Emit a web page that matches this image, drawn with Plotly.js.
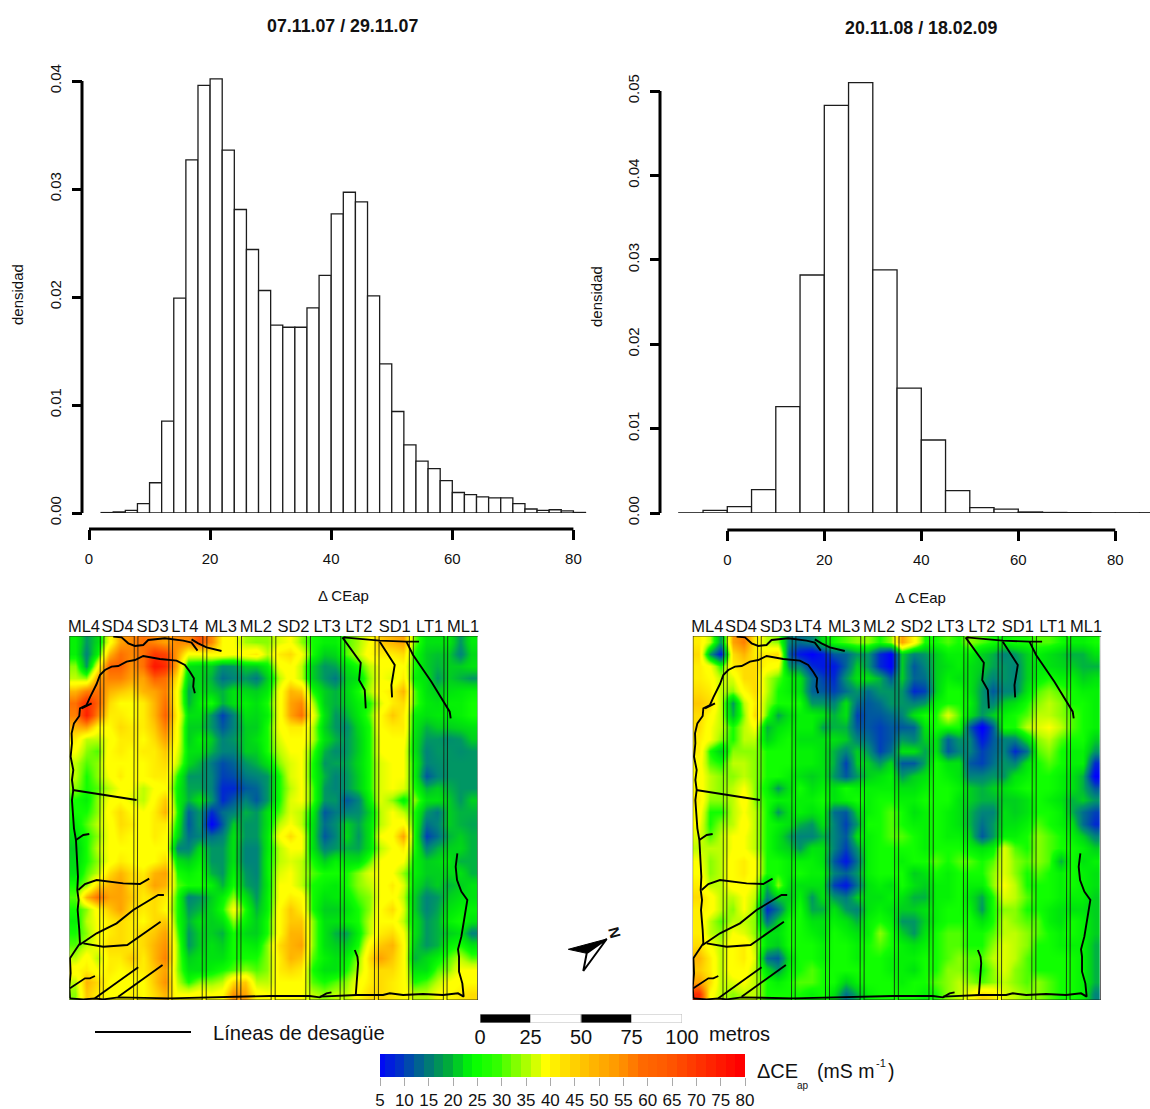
<!DOCTYPE html>
<html><head><meta charset="utf-8">
<script src="https://cdn.plot.ly/plotly-3.0.1.min.js"></script>
<style>html,body{margin:0;padding:0;background:#fff}#c{width:1150px;height:1109px}</style>
</head><body><div id="c"></div>
<script>
// --- histogram data ---
const histALeft = [2,4,6,8,10,12,14,16,18,20,22,24,26,28,30,32,34,36,38,40,42,44,46,48,50,52,54,56,58,60,62,64,66,68,70,72,74,76,78,80];
const histADensity = [0.00004,0.0001,0.00025,0.00086,0.0028,0.0085,0.0199,0.0327,0.0396,0.0402,0.0336,0.0281,0.0244,0.0206,0.0174,0.0172,0.0172,0.019,0.022,0.0277,0.0297,0.0288,0.0201,0.0138,0.0094,0.0063,0.0048,0.0041,0.003,0.0019,0.0017,0.0015,0.0014,0.0014,0.00086,0.00037,0.00025,0.0003,0.0002,0.00005];
const histBLeft = [-10,-5,0,5,10,15,20,25,30,35,40,45,50,55,60,65,70,75,80,85];
const histBDensity = [0.00002,0.0003,0.00075,0.00276,0.0126,0.0282,0.0483,0.051,0.0288,0.0148,0.00865,0.00265,0.00063,0.00047,0.00012,0.00006,0.00004,0.00003,0.00003,0.00003];
const histATicksY = [0,0.01,0.02,0.03,0.04];
const histBTicksY = [0,0.01,0.02,0.03,0.04,0.05];
const histTicksX = [0,20,40,60,80];

// --- map labels and grid ---
const stripNames = ['ML4','SD4','SD3','LT4','ML3','ML2','SD2','LT3','LT2','SD1','LT1','ML1'];
const stripLabelAt = [102,203,308,405,513,618,731,832,927,1035,1140,1240];
const stripLeft = [58,161,263,367,470,574,677,781,884,987,1090,1193];
const stripRight = [150,252,356,458,562,665,769,872,975,1078,1182,1285];
const mapTop = 78, mapBottom = 1170;
const mapCols = [75,109,143,177,211,245,279,313,347,381,415,449,483,517,551,585,619,653,687,721,755,789,823,857,891,925,959,993,1027,1061,1095,1129,1163,1197,1231,1265];
const mapRows = [96,133,169,205,242,278,315,351,387,424,460,497,533,569,606,642,679,715,752,788,824,861,897,933,970,1006,1043,1079,1115,1152];

const mapA = [
[28,20,25,40,52,55,58,55,52,55,55,62,55,42,40,35,34,34,38,40,34,30,28,28,32,35,40,48,50,52,33,26,26,27,20,27],
[28,18,28,50,58,55,58,66,64,52,40,40,42,42,40,42,44,36,44,46,40,30,24,25,32,36,42,44,44,46,30,24,23,24,18,25],
[34,20,40,60,60,54,58,72,68,50,26,25,24,19,20,24,24,28,40,42,36,24,20,21,26,30,36,40,40,42,30,24,22,24,24,26],
[36,34,52,56,56,52,52,60,58,44,24,25,22,16,18,20,17,24,36,42,36,24,20,17,24,26,34,40,38,44,28,26,20,24,22,20],
[50,56,58,50,48,46,50,52,56,40,21,26,24,22,26,25,24,27,40,50,48,30,24,22,25,30,35,42,44,50,32,26,24,26,27,28],
[58,68,60,46,42,42,44,50,58,40,22,28,30,22,26,28,26,30,40,52,55,36,24,22,24,28,30,38,44,46,32,27,26,28,28,30],
[56,70,56,44,44,42,44,50,60,42,26,26,20,12,18,26,25,28,40,52,58,40,26,20,22,27,32,42,48,44,28,26,27,27,28,30],
[50,52,42,42,46,44,44,48,56,40,24,24,20,14,18,24,24,30,40,44,44,36,24,20,19,25,30,42,44,44,27,22,24,24,25,26],
[44,36,36,40,44,44,42,46,52,40,24,28,24,18,20,24,26,30,38,42,42,36,26,22,20,24,30,40,42,42,26,20,20,19,20,24],
[40,34,32,42,44,42,44,44,48,38,26,26,22,18,18,24,24,30,36,40,40,32,22,19,20,24,30,40,42,40,26,18,20,20,19,20],
[36,32,34,42,42,42,42,44,46,36,25,22,17,13,15,20,22,26,34,38,40,30,20,21,21,25,30,38,40,40,28,18,19,20,20,20],
[36,30,34,40,44,40,42,44,44,30,20,20,18,12,13,17,18,20,30,38,40,30,22,18,20,24,30,38,40,40,28,14,18,20,20,20],
[34,30,32,36,40,40,36,40,42,28,21,21,18,10,10,14,15,20,30,36,40,32,20,18,20,24,30,38,40,38,30,22,24,22,20,20],
[30,28,34,40,42,38,36,42,48,28,22,26,20,10,14,18,14,20,30,38,40,32,20,20,14,18,28,38,34,28,34,26,26,24,20,24],
[30,30,34,42,46,42,40,44,50,30,15,20,10,16,18,22,20,26,32,38,36,28,14,17,18,19,24,36,40,36,30,20,17,24,22,22],
[28,32,36,40,46,44,40,44,44,28,14,20,5,14,24,20,20,26,36,40,36,26,16,19,24,21,26,36,40,42,30,16,18,24,22,21],
[26,30,34,40,44,42,40,44,42,25,16,18,16,18,26,20,20,27,40,46,40,26,14,18,25,20,26,40,42,52,30,12,16,22,24,22],
[24,30,36,40,42,42,40,42,42,18,18,25,20,20,26,18,18,27,36,40,40,26,18,20,22,21,26,36,40,44,30,18,22,24,25,22],
[25,30,34,40,44,42,40,42,46,26,24,28,20,20,26,18,18,28,36,38,36,30,24,28,26,26,32,40,42,40,28,24,25,27,22,22],
[26,32,36,46,50,46,44,50,52,30,28,30,22,20,28,20,18,28,38,40,36,32,30,30,30,34,38,40,40,34,28,24,24,25,26,22],
[30,34,46,50,52,46,46,52,50,32,30,30,28,22,30,21,19,27,40,40,36,30,28,27,30,34,36,40,44,38,26,22,24,22,24,26],
[32,50,58,52,52,48,44,46,44,30,18,20,24,28,34,26,20,28,40,44,42,30,26,27,28,32,34,40,42,36,24,18,20,24,26,26],
[30,34,42,48,52,46,44,46,42,30,20,22,25,30,40,30,22,28,42,48,44,30,24,24,26,30,34,42,46,38,24,18,21,26,28,28],
[28,36,40,44,46,44,42,46,48,30,22,26,24,26,34,28,24,30,42,48,48,34,26,26,28,30,36,42,42,36,26,20,22,28,30,26],
[30,34,40,44,46,44,46,48,52,32,20,24,24,22,30,25,24,30,42,50,50,34,26,22,21,28,36,44,46,40,26,20,22,24,26,18],
[32,36,40,46,46,44,46,50,54,34,20,24,26,24,30,28,27,34,46,50,52,34,26,24,24,30,42,48,50,42,24,20,22,28,30,26],
[36,42,36,44,44,48,44,50,56,34,24,26,26,26,30,30,30,34,44,50,48,32,28,26,28,34,46,52,48,42,22,25,28,32,36,32],
[42,44,40,44,42,44,44,48,52,34,26,26,28,30,32,34,32,34,44,46,44,30,26,26,30,36,44,46,46,42,26,26,32,34,40,40],
[36,50,46,42,40,42,42,48,54,36,30,34,34,36,46,48,36,36,42,42,42,32,30,32,34,40,44,46,44,42,30,32,36,40,42,42],
[34,48,44,42,40,44,42,46,50,40,40,42,40,42,54,52,42,40,42,42,40,36,34,36,36,42,46,46,44,42,36,36,40,42,44,46]
];

const mapB = [
[44,36,20,52,56,44,36,34,18,16,18,26,30,32,34,34,30,34,52,42,30,30,32,30,34,32,30,28,30,30,32,32,30,28,28,30],
[46,20,8,46,50,44,44,46,14,8,5,8,14,15,20,20,10,5,24,18,20,24,28,28,28,24,22,18,20,24,28,26,24,22,22,26],
[44,40,30,44,46,46,42,40,20,18,10,8,8,15,24,20,10,5,24,14,18,24,26,28,26,24,21,20,18,24,27,26,25,24,22,22],
[44,42,36,38,46,46,36,32,28,26,16,12,10,20,26,26,22,14,24,15,16,24,28,26,26,22,18,20,18,24,28,30,28,28,24,26],
[46,44,36,34,42,46,36,30,28,26,15,14,12,16,20,16,20,20,20,10,12,24,30,30,26,20,14,18,18,26,32,34,32,30,28,28],
[48,46,36,20,36,44,34,30,30,30,20,20,18,26,16,14,16,20,20,18,20,28,30,30,28,20,18,24,26,30,34,36,34,30,30,28],
[46,42,36,22,34,46,32,21,26,28,28,26,22,26,12,14,14,16,18,26,30,30,38,32,26,20,24,28,30,32,36,36,34,32,30,28],
[46,40,36,30,36,40,22,26,28,28,28,21,22,22,14,14,12,14,14,15,26,30,30,30,14,4,14,30,30,36,38,40,36,32,30,28],
[44,40,34,30,36,36,24,28,30,26,26,26,26,24,18,16,12,14,20,18,24,26,15,20,18,8,14,18,18,26,34,36,32,30,30,24],
[44,30,24,34,34,34,30,30,30,28,28,26,22,18,24,20,12,16,26,26,21,26,14,18,18,12,15,18,10,16,32,34,30,28,28,20],
[42,32,30,36,36,34,30,30,30,28,28,26,22,12,24,24,20,25,14,14,21,30,26,26,14,12,16,20,18,26,30,32,30,28,28,10],
[42,36,34,34,36,34,30,30,28,26,24,26,20,14,20,24,26,28,20,24,26,30,28,26,18,18,20,20,26,28,30,30,28,26,22,5],
[42,36,34,36,40,34,28,20,26,30,26,28,26,30,28,28,28,28,26,26,28,30,30,28,24,22,24,26,28,30,30,30,28,26,22,14],
[44,34,34,36,42,34,30,28,28,28,28,30,26,28,30,28,30,30,28,28,30,30,30,26,24,22,22,24,24,26,30,28,26,22,24,20],
[42,30,30,36,40,36,30,20,26,28,26,28,16,14,24,28,30,32,30,26,28,30,28,26,22,18,18,26,24,26,30,30,28,22,16,12],
[40,30,34,36,42,36,30,28,26,22,20,26,18,12,20,30,30,32,30,28,28,30,28,26,22,16,20,26,26,28,32,30,28,26,16,10],
[38,32,36,40,40,36,30,26,21,18,18,22,18,14,26,28,30,32,32,30,28,30,28,28,24,14,20,28,28,30,34,32,30,28,24,18],
[36,36,36,40,40,36,30,26,24,20,26,26,18,12,20,28,30,30,30,30,28,30,30,30,28,26,28,38,32,30,34,32,30,30,28,24],
[40,34,36,42,44,40,30,30,28,28,28,26,14,8,16,28,30,30,28,30,30,32,30,32,32,30,32,38,34,32,34,32,22,30,26,28],
[42,34,36,42,44,40,30,30,28,30,28,28,18,15,20,28,30,30,30,24,26,30,28,30,30,30,34,38,34,30,32,30,28,30,28,26],
[44,36,36,42,42,38,22,34,26,26,26,26,12,8,16,26,28,26,30,26,24,28,28,30,28,28,34,40,36,30,30,30,28,30,28,26],
[46,42,36,36,40,36,18,24,24,28,20,26,20,17,24,26,26,28,26,22,22,28,28,30,26,21,30,38,36,32,30,30,28,28,28,24],
[44,42,36,34,40,34,10,16,26,30,21,22,26,20,18,26,28,26,24,24,26,28,30,30,28,20,30,34,34,30,30,28,26,26,26,24],
[44,36,32,36,36,34,16,24,30,30,26,26,28,26,22,28,30,28,20,20,24,28,30,30,30,26,30,36,34,32,32,28,26,30,28,24],
[44,36,34,40,38,34,26,26,30,30,28,26,30,28,26,28,34,30,24,20,26,30,32,32,30,30,32,36,36,34,32,30,28,30,28,24],
[46,40,36,42,44,36,26,24,30,30,30,28,30,30,28,30,32,30,28,26,28,30,32,32,30,30,34,38,36,34,30,30,28,28,28,22],
[50,44,36,42,44,38,16,14,26,30,30,28,30,30,28,30,30,28,28,28,30,30,32,34,32,32,36,38,36,32,30,30,30,30,28,22],
[48,44,36,42,42,36,26,20,28,30,32,30,30,30,30,30,30,28,28,26,30,30,34,34,32,30,34,38,34,32,30,30,30,30,28,22],
[52,46,36,38,40,36,30,28,30,32,32,30,30,24,28,30,30,30,28,30,30,32,34,36,34,32,34,36,34,32,34,32,30,30,28,22],
[68,42,36,34,36,36,30,30,30,30,28,30,26,16,22,28,30,30,30,30,28,30,34,36,40,46,44,38,36,34,34,32,30,30,28,18]
];

// --- drainage lines, in map units ---
const drainX = [60,58,62,60,70,85,90,88,83,86,82,84,80,78,72,68,66,70,66,70,62,66,65,72,88,90,110,120,128,140,150,165,185,205,230,255,280,330,380,405,420,432,430,435,null,
190,215,235,255,280,295,345,400,425,443,null,425,445,470,515,null,95,125,null,68,260,null,78,100,118,null,
85,105,140,180,220,270,298,null,88,140,200,250,325,342,null,100,160,232,332,null,60,105,120,135,null,135,265,null,205,338,null,
60,100,135,160,205,360,660,780,810,830,845,null,810,920,1000,1020,1060,1120,1180,1225,1242,1238,1228,1228,1225,1235,1253,1235,1222,1218,1223,null,
918,925,923,915,null,880,935,990,1070,1108,null,878,933,928,945,948,null,990,1035,1025,1027,null,1070,1090,1145,1200,1203];
const drainY = [1165,1130,1090,1045,1030,1010,1000,960,900,870,840,800,740,690,655,600,570,540,510,480,440,400,370,340,318,295,285,262,245,222,195,180,170,168,155,150,138,147,152,165,185,205,230,250,null,
80,82,100,108,105,90,85,92,98,122,null,88,100,112,123,null,295,280,null,540,570,null,690,675,672,null,
840,822,810,815,820,822,806,null,1005,970,940,900,855,855,null,1000,1010,1005,935,null,1135,1105,1105,1098,null,1165,1072,null,1160,1065,null,
1165,1168,1165,1168,1162,1165,1158,1158,1162,1150,1147,null,1160,1155,1155,1150,1155,1152,1155,1150,1160,1120,1085,1040,1018,980,870,845,810,770,730,null,
1155,1060,1040,1020,null,82,88,92,95,95,null,82,158,210,240,295,null,95,165,225,262,null,95,135,215,305,325];

// --- scale bar, colour key ---
const scaleStart = [0,25,50,75];
const scaleLength = [25,25,25,25];
const scaleColors = ['#000','#fff','#000','#fff'];
const scaleTicks = [0,25,50,75,100];
const keyValues = [6,8,10,12,14,16,18,20,22,24,26,28,30,32,34,36,38,40,42,44,46,48,50,52,54,56,58,60,62,64,66,68,70,72,74,76,78,80];
const keyTicks = [5,10,15,20,25,30,35,40,45,50,55,60,65,70,75,80];

// colour key (as drawn on the key)
const keyScale = [[5,'#0000ff'],[10,'#0030c8'],[15,'#006e82'],[20,'#00aa3c'],[25,'#00ff00'],[30,'#32ff00'],[35,'#96ff00'],[40,'#ffff00'],[45,'#ffd700'],[50,'#ffb400'],[55,'#ff9600'],[60,'#ff6900'],[65,'#ff5a00'],[70,'#ff3c00'],[75,'#ff1e00'],[80,'#ff0000']];
const mapScale = [[5,'#0000ff'],[10,'#0028d2'],[14,'#0058a0'],[18,'#00847a'],[20,'#009664'],[24,'#00d01e'],[27,'#00ec08'],[30,'#10ff00'],[33,'#6eff00'],[36,'#beff00'],[40,'#ffff00'],[42,'#ffff00'],[46,'#ffdc00'],[50,'#ffb400'],[56,'#ff8000'],[62,'#ff5000'],[70,'#ff1e00'],[80,'#ff0000']];
const norm = s => s.map(([v,c]) => [(v-5)/75, c]);

const W = 1150, H = 1109;
const px = x => x/W, py = y => 1-y/H;
const dom = (a,b) => [px(a),px(b)];
const domY = (top,bot) => [py(bot),py(top)];

// strip outlines, slightly leaning
const stripX = [], stripY = [];
stripLeft.forEach((l,i) => { const r = stripRight[i];
  stripX.push(l+1,r+1,r-1,l-1,l+1,null); stripY.push(mapTop,mapTop,mapBottom,mapBottom,mapTop,null); });

function bars(xs,ys,w,xa,ya){return {type:'bar',x:xs.map(v=>v+w/2),y:ys,width:w,xaxis:xa,yaxis:ya,
  marker:{color:'#fff',line:{color:'#1c1c1c',width:1.3}},hoverinfo:'skip'};}
function mapTraces(z,xa,ya){return [
 {type:'heatmap',x:mapCols,y:mapRows,z:z,xaxis:xa,yaxis:ya,zmin:5,zmax:80,colorscale:norm(mapScale),zsmooth:'best',showscale:false,hoverinfo:'skip'},
 {type:'scatter',mode:'lines',x:stripX,y:stripY,xaxis:xa,yaxis:ya,line:{color:'rgba(20,20,20,0.8)',width:1},hoverinfo:'skip'},
 {type:'scatter',mode:'lines',x:drainX,y:drainY,xaxis:xa,yaxis:ya,line:{color:'#000',width:1.9},hoverinfo:'skip'}
];}

const data = [
 bars(histALeft,histADensity,2,'x','y'),
 bars(histBLeft,histBDensity,5,'x2','y2'),
 ...mapTraces(mapA,'x3','y3'),
 ...mapTraces(mapB,'x4','y4'),
 {type:'bar',orientation:'h',x:scaleLength,base:scaleStart,y:[0,0,0,0],width:1,xaxis:'x5',yaxis:'y5',
  marker:{color:scaleColors,line:{color:'#bbb',width:1}},hoverinfo:'skip'},
 {type:'heatmap',x:keyValues.map(v=>v-1),y:[0],z:[keyValues],xaxis:'x6',yaxis:'y6',zmin:5,zmax:80,colorscale:norm(keyScale),showscale:false,hoverinfo:'skip'}
];

const font = 'Liberation Sans, Arial, sans-serif';
function hx(domain,range,pos){return {domain,range,anchor:'free',position:pos,showgrid:false,zeroline:false,showline:false,
  tickmode:'array',tickvals:histTicksX,ticks:'outside',ticklen:10,tickwidth:3,tickcolor:'#000',ticklabelstandoff:6,tickfont:{family:font,size:15,color:'#111'}};}
function hy(domain,range,pos,vals){return {domain,range,anchor:'free',position:pos,showgrid:false,zeroline:false,showline:false,
  tickmode:'array',tickvals:vals,ticktext:vals.map(v=>v.toFixed(2)),ticks:'outside',ticklen:10,tickwidth:3,tickcolor:'#000',tickangle:-90,ticklabelstandoff:5,tickfont:{family:font,size:15,color:'#111'}};}
function mx(domain,anchor){return {domain,range:[58,1285],anchor,side:'top',showgrid:false,zeroline:false,showline:false,ticks:'',
  tickmode:'array',tickvals:stripLabelAt,ticktext:stripNames,tickangle:0,tickfont:{family:font,size:16.5,color:'#111'}};}
const my = dm => ({domain:dm,range:[mapBottom,mapTop],visible:false});

const ann = (text,x,y,size,extra={}) => Object.assign({text,xref:'paper',yref:'paper',x:px(x),y:py(y),showarrow:false,xanchor:'center',yanchor:'middle',
  font:{family:font,size,color:'#111'}},extra);

const layout = {
 width:W,height:H,margin:{l:0,r:0,t:0,b:0},paper_bgcolor:'#fff',plot_bgcolor:'rgba(0,0,0,0)',showlegend:false,bargap:0,
 xaxis:hx(dom(80,590),[(80-89)/6.055,(590-89)/6.055],py(529)),
 yaxis:hy(domY(70,513),[0,(513-70)/10800],px(82),histATicksY),
 xaxis2:hx(dom(672,1150),[(672-727.3)/4.85,(1150-727.3)/4.85],py(530)),
 yaxis2:hy(domY(70,513),[0,(513-70)/8440],px(660),histBTicksY),
 xaxis3:mx(dom(69.3,478),'y3'), yaxis3:my(domY(636,1000)),
 xaxis4:mx(dom(692.7,1101),'y4'), yaxis4:my(domY(636,1000)),
 xaxis5:{domain:dom(480,682),range:[0,100],anchor:'y5',showgrid:false,zeroline:false,showline:false,ticks:'',tickmode:'array',tickvals:scaleTicks,tickfont:{family:font,size:20,color:'#111'}},
 yaxis5:{domain:domY(1014,1023),range:[-0.5,0.5],visible:false},
 xaxis6:{domain:dom(380,745),range:[5,80],anchor:'y6',showgrid:false,zeroline:false,showline:false,ticks:'outside',ticklen:8,tickwidth:1,tickcolor:'#aaa',tickmode:'array',tickvals:keyTicks,tickfont:{family:font,size:17,color:'#111'}},
 yaxis6:{domain:domY(1054,1077),range:[-0.5,0.5],visible:false},
 shapes:[
  {type:'line',xref:'x',yref:'paper',x0:0,x1:80,y0:py(529),y1:py(529),line:{color:'#000',width:3}},
  {type:'line',xref:'paper',yref:'y',x0:px(82),x1:px(82),y0:0,y1:0.04,line:{color:'#000',width:3}},
  {type:'line',xref:'x2',yref:'paper',x0:0,x1:80,y0:py(530),y1:py(530),line:{color:'#000',width:3}},
  {type:'line',xref:'paper',yref:'y2',x0:px(660),x1:px(660),y0:0,y1:0.05,line:{color:'#000',width:3}},
  {type:'line',xref:'paper',yref:'paper',x0:px(95),x1:px(191),y0:py(1032),y1:py(1032),line:{color:'#000',width:2}},
  // north arrow
  {type:'path',xref:'paper',yref:'paper',path:`M ${px(606.7)} ${py(939)} L ${px(568.3)} ${py(949.3)} L ${px(586.7)} ${py(953.3)} Z`,fillcolor:'#000',line:{color:'#000',width:1}},
  {type:'path',xref:'paper',yref:'paper',path:`M ${px(606.7)} ${py(939)} L ${px(586.7)} ${py(953.3)} L ${px(583.3)} ${py(971)} Z`,fillcolor:'#fff',line:{color:'#000',width:2}}
 ],
 annotations:[
  ann('<b>07.11.07 / 29.11.07</b>',342,26,17.8),
  ann('<b>20.11.08 / 18.02.09</b>',921,28,17.8),
  ann('densidad',18,295,15,{textangle:-90}),
  ann('densidad',597,297,15,{textangle:-90}),
  ann('Δ CEap',343,595,15),
  ann('Δ CEap',920,597,15),
  ann('Líneas de desagüe',299,1033,20.2),
  ann('metros',740,1034,20),
  ann('ΔCE',777,1071,20),
  ann('ap',803,1085,10),
  ann('(mS m',845,1071,19.5),
  ann('-1',881,1063,11),
  ann(')',891,1071,19.5),
  ann('<b>N</b>',615,932,15,{textangle:75})
 ]
};
Plotly.newPlot('c',data,layout,{staticPlot:true,displayModeBar:false});
</script></body></html>
